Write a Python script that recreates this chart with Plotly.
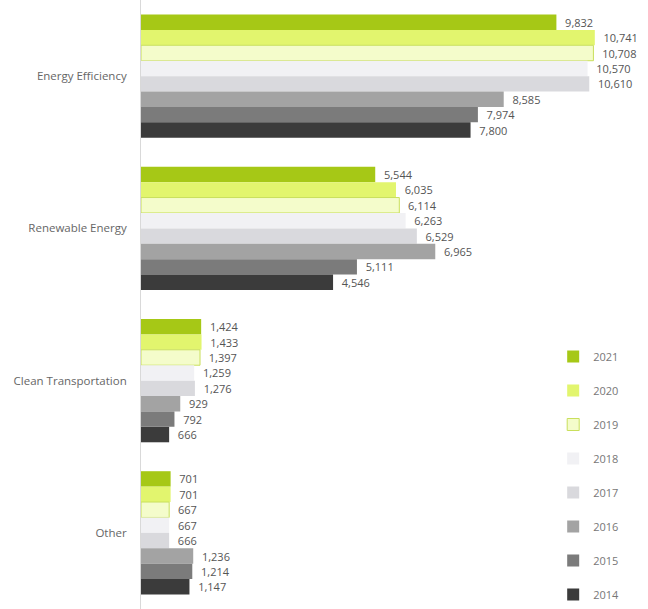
import plotly.graph_objects as go

# Categories (top to bottom) and series, one per year
categories = ["Energy Efficiency", "Renewable Energy", "Clean Transportation", "Other"]
years = ["2021", "2020", "2019", "2018", "2017", "2016", "2015", "2014"]

values_2021 = [9832, 5544, 1424, 701]
values_2020 = [10741, 6035, 1433, 701]
values_2019 = [10708, 6114, 1397, 667]
values_2018 = [10570, 6263, 1259, 667]
values_2017 = [10610, 6529, 1276, 666]
values_2016 = [8585, 6965, 929, 1236]
values_2015 = [7974, 5111, 792, 1214]
values_2014 = [7800, 4546, 666, 1147]

series = [values_2021, values_2020, values_2019, values_2018,
          values_2017, values_2016, values_2015, values_2014]

fills = ["#a6c816", "#e2f56e", "#f4fccb", "#f1f1f4",
         "#d9d9dd", "#a3a3a3", "#7b7b7b", "#3b3b3b"]
outlines = [None, None, "#c9df5c", None, None, None, None, None]

fig = go.Figure()

for year, vals, fill, edge in zip(years, series, fills, outlines):
    fig.add_trace(go.Bar(
        y=categories, x=vals, name=year, orientation="h",
        legendgroup=year,
        marker=dict(color=fill,
                    line=dict(color=edge or fill, width=1 if edge else 0)),
        texttemplate="  %{x:,}", textposition="outside",
        textfont=dict(size=11, color="#555555"),
        cliponaxis=False,
    ))

fig.update_layout(
    width=648, height=609,
    barmode="group", bargap=0.19, bargroupgap=0,
    paper_bgcolor="white", plot_bgcolor="white",
    margin=dict(l=141, r=0, t=0, b=0),
    font=dict(family="Open Sans, Liberation Sans, sans-serif", size=11, color="#666666"),
    xaxis=dict(range=[0, 12000], visible=False, showgrid=False, zeroline=False),
    yaxis=dict(autorange="reversed", showline=True, linecolor="#d9d9d9", linewidth=1,
               ticks="outside", ticklen=11, tickcolor="white",
               tickfont=dict(size=11.5, color="#666666")),
    legend=dict(x=0.813, y=0, xanchor="left", yanchor="bottom",
                traceorder="grouped", tracegroupgap=15,
                font=dict(size=11, color="#777777"),
                bgcolor="rgba(0,0,0,0)", itemwidth=30),
    showlegend=True,
)

# drop the browser's default body margin so the chart sits at the page corner
fig.write_html("out.html", config={"displayModeBar": False},
               post_script="document.body.style.margin='0';")
